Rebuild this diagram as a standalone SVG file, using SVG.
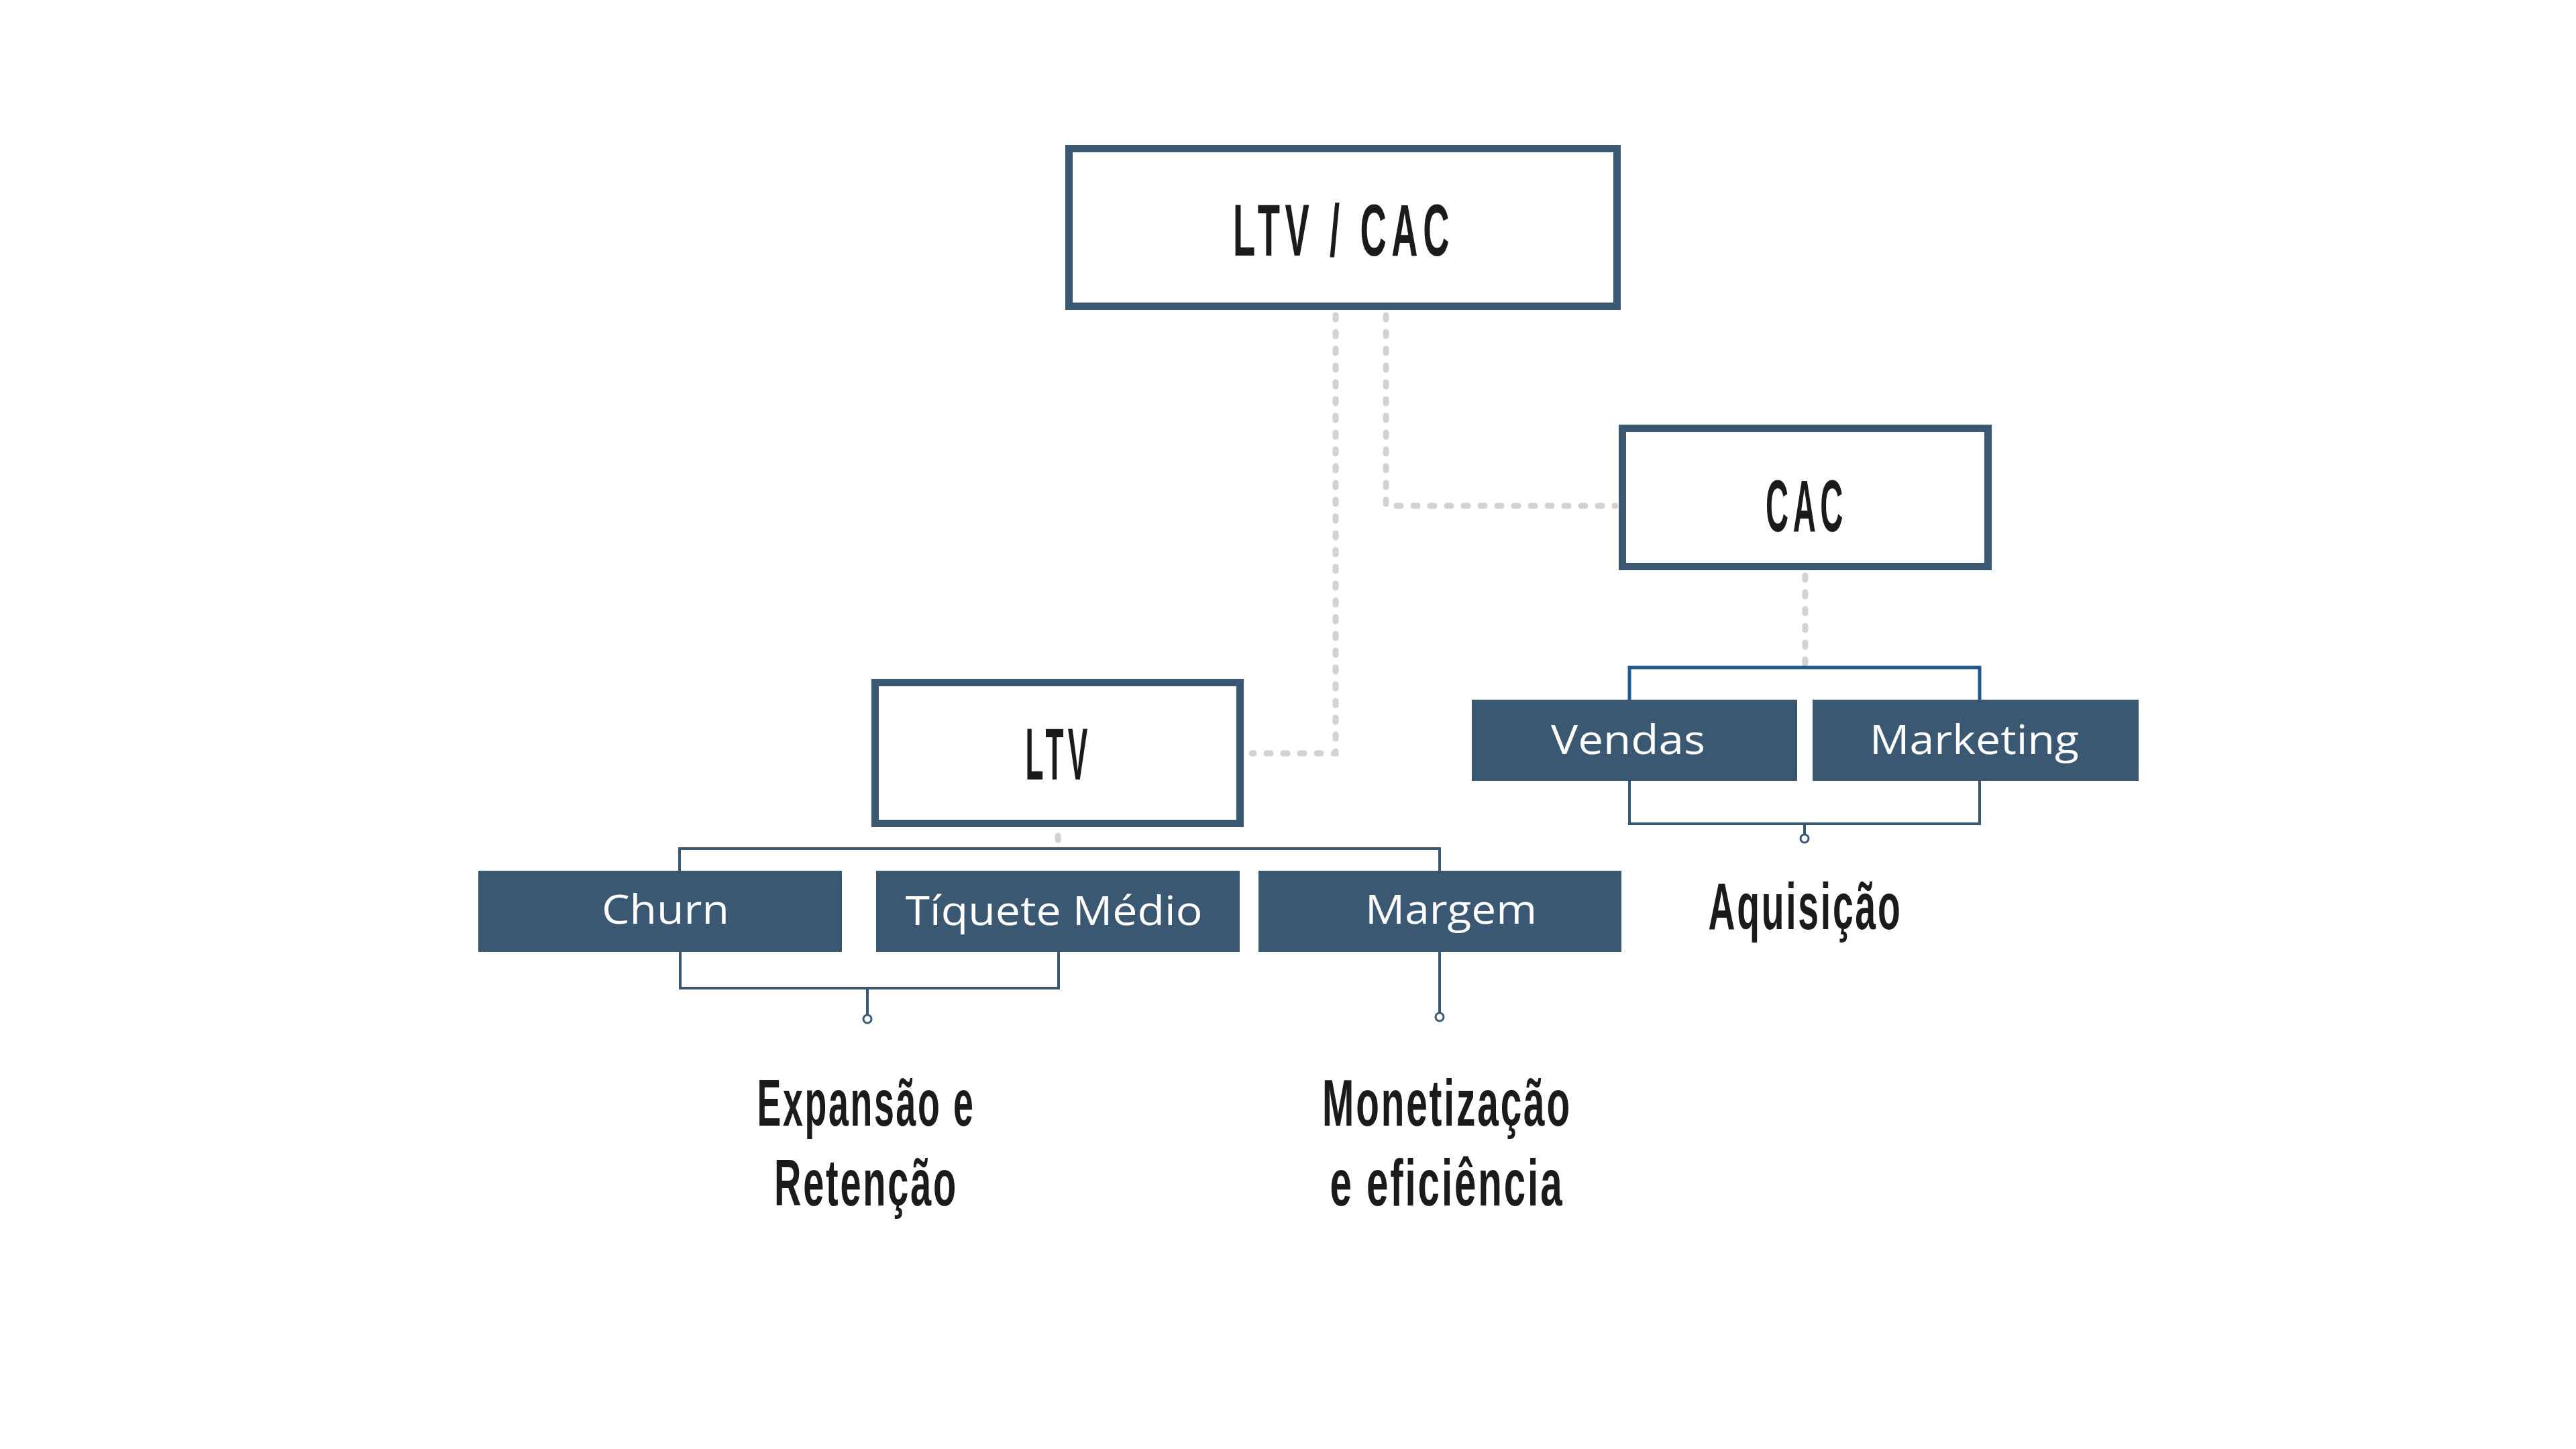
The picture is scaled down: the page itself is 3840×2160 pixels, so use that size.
<svg xmlns="http://www.w3.org/2000/svg" width="3840" height="2160" viewBox="0 0 3840 2160">
<style>
.frame{fill:#ffffff;stroke:#3b5872;stroke-width:11}
.sub{fill:#3b5872}
.head{font-family:"Liberation Sans","Arial",sans-serif;font-weight:bold;fill:#1b1b1b;text-anchor:middle;letter-spacing:0.14em}
.cap{font-family:"Liberation Sans","Arial",sans-serif;font-weight:bold;fill:#1b1b1b;text-anchor:middle;letter-spacing:0.05em}
.lbl{font-family:"Open Sans","Noto Sans",sans-serif;font-size:60px;fill:#ffffff;text-anchor:middle}
.dot{fill:none;stroke:#d2d2d2;stroke-width:9;stroke-linecap:round;stroke-dasharray:6 19}
.wire{fill:none;stroke:#3b5872;stroke-width:4}
.wireb{fill:none;stroke:#1f5a8c;stroke-width:5}
.end{fill:#ffffff;stroke:#3b5872;stroke-width:3}
</style>
<rect width="3840" height="2160" fill="#ffffff"/>
<g id="connectors">
<path class="dot" d="M2066,470 V754 H2408"/>
<path class="dot" d="M1991,470 V1123 H1866"/>
<path class="dot" d="M2691,858 V990"/>
<path class="dot" d="M1577,1246 V1258"/>
<path class="wire" d="M1013,1298 V1265 H2146 V1298"/>
<path class="wire" d="M1014,1419 V1473 H1578 V1419"/>
<path class="wire" d="M1293,1473 V1512"/>
<circle class="end" cx="1293" cy="1519" r="6"/>
<path class="wire" d="M2146,1419 V1509"/>
<circle class="end" cx="2146" cy="1516" r="6"/>
<path class="wireb" d="M2429,1043 V995 H2951 V1043"/>
<path class="wire" d="M2429,1164 V1228 H2951 V1164"/>
<path class="wire" d="M2690,1228 V1243"/>
<circle class="end" cx="2690" cy="1250" r="6"/>
</g>
<g id="ltv-cac">
<rect class="frame" x="1593.5" y="221.5" width="817" height="235"/>
<text class="head" x="2003" y="381" font-size="110" textLength="330" lengthAdjust="spacingAndGlyphs">LTV / CAC</text>
</g>
<g id="cac">
<rect class="frame" x="2418.5" y="638.5" width="545" height="206"/>
<text class="head" x="2693" y="792" font-size="110" textLength="122" lengthAdjust="spacingAndGlyphs">CAC</text>
</g>
<g id="ltv">
<rect class="frame" x="1304.5" y="1017.5" width="544" height="210"/>
<text class="head" x="1578" y="1162" font-size="110" textLength="99" lengthAdjust="spacingAndGlyphs">LTV</text>
</g>
<g id="churn">
<rect class="sub" x="713" y="1298" width="542" height="121"/>
<text class="lbl" x="992" y="1377" textLength="190" lengthAdjust="spacingAndGlyphs">Churn</text>
</g>
<g id="tiquete-medio">
<rect class="sub" x="1306" y="1298" width="542" height="121"/>
<text class="lbl" x="1571" y="1379" textLength="443" lengthAdjust="spacingAndGlyphs">Tíquete Médio</text>
</g>
<g id="margem">
<rect class="sub" x="1876" y="1298" width="541" height="121"/>
<text class="lbl" x="2163" y="1377" textLength="256" lengthAdjust="spacingAndGlyphs">Margem</text>
</g>
<g id="vendas">
<rect class="sub" x="2194" y="1043" width="485" height="121"/>
<text class="lbl" x="2427" y="1124" textLength="230" lengthAdjust="spacingAndGlyphs">Vendas</text>
</g>
<g id="marketing">
<rect class="sub" x="2702" y="1043" width="486" height="121"/>
<text class="lbl" x="2943" y="1124" textLength="312" lengthAdjust="spacingAndGlyphs">Marketing</text>
</g>
<g id="aquisicao">
<text class="cap" x="2691" y="1385" font-size="98" textLength="289" lengthAdjust="spacingAndGlyphs">Aquisição</text>
</g>
<g id="expansao-retencao">
<text class="cap" x="1291" y="1678" font-size="98" textLength="325" lengthAdjust="spacingAndGlyphs">Expansão e</text>
<text class="cap" x="1291" y="1797" font-size="98" textLength="274" lengthAdjust="spacingAndGlyphs">Retenção</text>
</g>
<g id="monetizacao-eficiencia">
<text class="cap" x="2157" y="1678" font-size="98" textLength="372" lengthAdjust="spacingAndGlyphs">Monetização</text>
<text class="cap" x="2157" y="1797" font-size="98" textLength="349" lengthAdjust="spacingAndGlyphs">e eficiência</text>
</g>
</svg>
